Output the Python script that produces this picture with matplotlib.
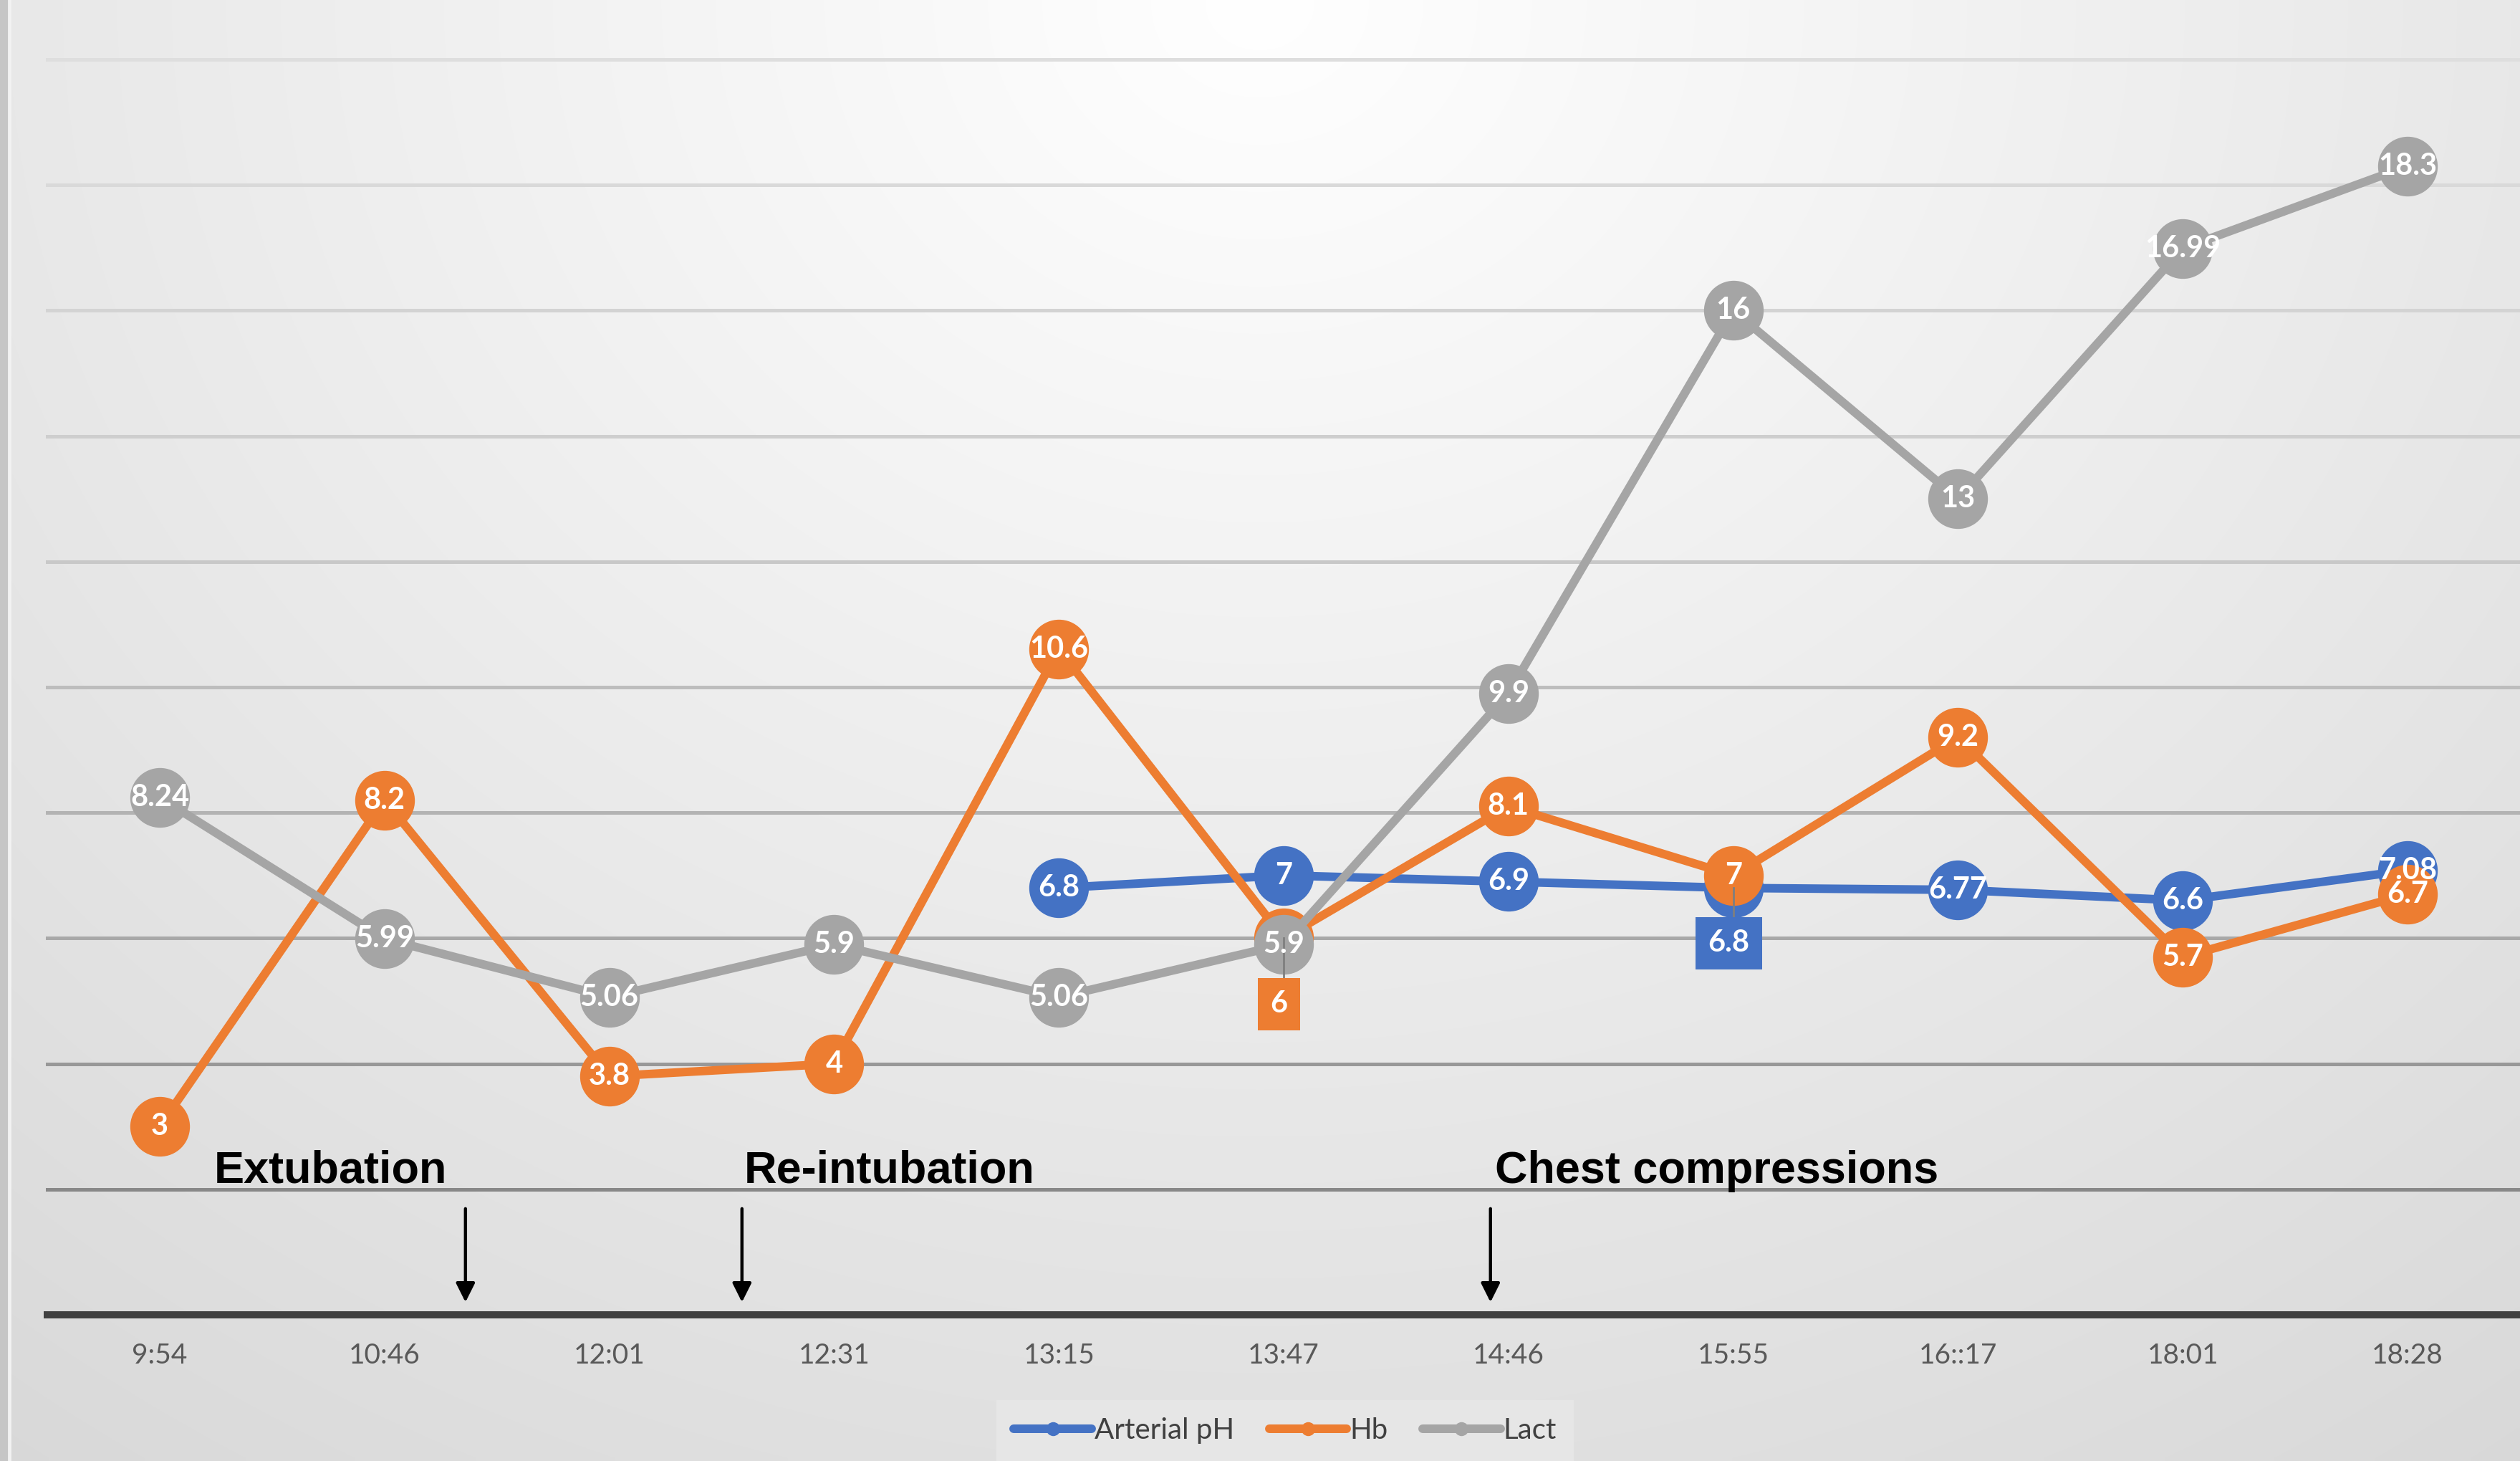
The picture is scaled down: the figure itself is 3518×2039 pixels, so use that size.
import numpy as np
import matplotlib
matplotlib.use('Agg')
import matplotlib.pyplot as plt
from matplotlib.lines import Line2D
from matplotlib.patches import Rectangle

# sample times and lab values
times = ['9:54', '10:46', '12:01', '12:31', '13:15', '13:47',
         '14:46', '15:55', '16::17', '18:01', '18:28']
arterial_ph = [np.nan, np.nan, np.nan, np.nan, 6.8, 7, 6.9, 6.8, 6.77, 6.6, 7.08]
hb = [3, 8.2, 3.8, 4, 10.6, 6, 8.1, 7, 9.2, 5.7, 6.7]
lact = [8.24, 5.99, 5.06, 5.9, 5.06, 5.9, 9.9, 16, 13, 16.99, 18.3]

# clinical events, placed on the category axis
events = ['Extubation', 'Re-intubation', 'Chest compressions']
event_pos = [1.36, 2.59, 5.92]

series = [('Arterial pH', arterial_ph, '#4472C4'),
          ('Hb', hb, '#ED7D31'),
          ('Lact', lact, '#A5A5A5')]

# labels that sit in a box below their point (series, index) -> shift
boxed = {('Hb', 5): -1.05, ('Arterial pH', 7): -0.88}

fig = plt.figure(figsize=(17.59, 10.195), dpi=200)

# soft radial background, white at top centre
bg = fig.add_axes([0, 0, 1, 1], zorder=-10)
gx, gy = np.meshgrid(np.linspace(0, 1, 400), np.linspace(0, 1, 240))
d = np.sqrt((42 * (gx - 0.5)) ** 2 + (28 * gy) ** 2)
v = np.clip(255 - 1.1 * d, 200, 255) / 255.0
bg.imshow(np.dstack([v, v, v]), extent=(0, 1, 0, 1), aspect='auto',
          origin='upper', interpolation='bilinear')
bg.add_patch(Rectangle((0, 0), 0.0034, 1, color='#c6c6c6', transform=bg.transAxes))
bg.add_patch(Rectangle((0.0034, 0), 0.0007, 1, color='#f2f2f2', transform=bg.transAxes))
bg.set_xlim(0, 1)
bg.set_ylim(0, 1)
bg.axis('off')

ax = fig.add_axes([0.0188, 0.1001, 0.9812, 0.8592])
ax.set_facecolor((1, 1, 1, 0))
x = np.arange(len(times))
ax.set_xlim(-0.5, len(times) - 0.5)
ax.set_ylim(0, 20)
ax.set_yticks(np.arange(0, 21, 2))

for yv in ax.get_yticks()[1:]:
    g = np.interp(yv, [2, 6, 12, 20], [136, 168, 200, 222]) / 255.0
    ax.axhline(yv, color=(g, g, g), lw=1.8, zorder=1, clip_on=False)
ax.axhline(0, color='#404040', lw=3.6, zorder=1.5, clip_on=False)

for s in ax.spines.values():
    s.set_visible(False)
ax.set_xticks(x)
ax.set_xticklabels(times, family='Lato', fontsize=14, color='#595959')
ax.tick_params(axis='x', length=0, pad=14)
ax.tick_params(axis='y', length=0, labelleft=False)

for i, (name, vals, col) in enumerate(series):
    ax.plot(x, vals, color=col, lw=4.3, marker='o', ms=30, mew=0,
            zorder=3 + i, solid_capstyle='round')

for name, vals, col in series:
    for xi, yv in zip(x, vals):
        if np.isnan(yv):
            continue
        lab = f'{yv:g}'
        if (name, xi) in boxed:
            ly = yv + boxed[(name, xi)]
            ax.plot([xi, xi], [ly + 0.35, yv], color='#7f7f7f', lw=1, zorder=9)
            ax.text(xi - 0.02, ly, lab, ha='center', va='center', color='white',
                    family='Lato', fontweight='bold', fontsize=15, zorder=10,
                    bbox=dict(boxstyle='square,pad=0.42', fc=col, ec='none'))
        else:
            ax.text(xi, yv, lab, ha='center', va='center', color='white',
                    family='Lato', fontweight='bold', fontsize=15, zorder=10)

text_x = [0.24, 2.60, 5.94]
for name, ex, tx in zip(events, event_pos, text_x):
    ax.text(tx, 2.1, name, ha='left', va='baseline', family='Liberation Sans',
            fontweight='bold', fontsize=22.7, color='black', zorder=8)
    ax.annotate('', xy=(ex, 0.2), xytext=(ex, 1.69),
                arrowprops=dict(arrowstyle='-|>', lw=1.6, color='black',
                                mutation_scale=20, shrinkA=0, shrinkB=0),
                zorder=8)

handles = [Line2D([], [], color=c, lw=4.3, marker='o', ms=7, mew=0,
                  solid_capstyle='round') for _, _, c in series]
leg = fig.legend(handles, [n for n, _, _ in series], loc='center',
                 bbox_to_anchor=(0.51, 0.021), ncol=3, frameon=True,
                 fancybox=False, handlelength=2.7, handletextpad=0.1,
                 columnspacing=1.2, prop={'family': 'Lato', 'size': 14.5},
                 borderpad=0.6)
leg.get_frame().set_facecolor('#e8e8e8')
leg.get_frame().set_edgecolor('none')
for t in leg.get_texts():
    t.set_color('#404040')

fig.savefig('out.png', dpi=200)
